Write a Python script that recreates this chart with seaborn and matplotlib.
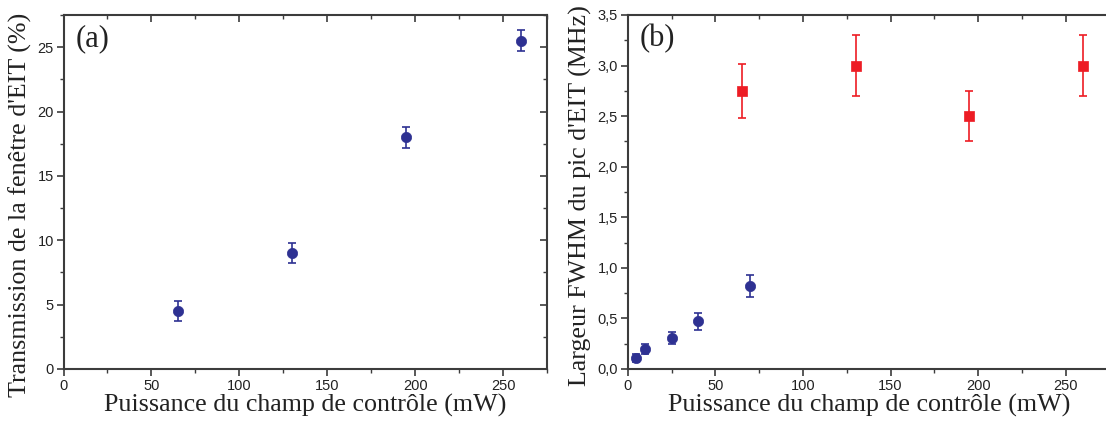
import numpy as np
import pandas as pd
import matplotlib
matplotlib.use('Agg')
import matplotlib.pyplot as plt
import seaborn as sns
from matplotlib.ticker import MultipleLocator, FuncFormatter

# (a) transmission vs control power
pow_a = [65, 130, 195, 260]
trans_a = [4.5, 9.0, 18.0, 25.5]
err_a = [0.8, 0.8, 0.8, 0.8]

# (b) EIT FWHM vs control power
pow_blue = [5, 10, 25, 40, 70]
fwhm_blue = [0.11, 0.20, 0.31, 0.47, 0.82]
err_blue = [0.04, 0.05, 0.06, 0.08, 0.11]

pow_red = [65, 130, 195, 260]
fwhm_red = [2.75, 3.0, 2.5, 3.0]
err_red = [0.27, 0.30, 0.25, 0.30]

blue = '#2e3192'
red = '#ed1c24'
spine_col = '#3c3c3c'

sns.set_style('white')
plt.rcParams['font.family'] = ['Liberation Sans', 'DejaVu Sans']

fig = plt.figure(figsize=(11.06, 4.21), dpi=100)
ax1 = fig.add_axes([63.5 / 1106, 52 / 421, 483.5 / 1106, 354 / 421])
ax2 = fig.add_axes([627.7 / 1106, 52 / 421, 482 / 1106, 354 / 421])

serif = ['Liberation Serif', 'DejaVu Serif']

df_a = pd.DataFrame({'p': pow_a, 't': trans_a})
ax1.errorbar(pow_a, trans_a, yerr=err_a, fmt='none', ecolor=blue, elinewidth=1.2,
             capsize=3, capthick=1.2, zorder=2)
sns.scatterplot(data=df_a, x='p', y='t', ax=ax1, color=blue, marker='o', s=55,
                edgecolor=blue, linewidth=0.5, zorder=3)

df_b1 = pd.DataFrame({'p': pow_blue, 'w': fwhm_blue})
df_b2 = pd.DataFrame({'p': pow_red, 'w': fwhm_red})
ax2.errorbar(pow_blue, fwhm_blue, yerr=err_blue, fmt='none', ecolor=blue, elinewidth=1.2,
             capsize=3, capthick=1.2, zorder=2)
ax2.errorbar(pow_red, fwhm_red, yerr=err_red, fmt='none', ecolor=red, elinewidth=1.2,
             capsize=3, capthick=1.2, zorder=2)
sns.scatterplot(data=df_b1, x='p', y='w', ax=ax2, color=blue, marker='o', s=55,
                edgecolor=blue, linewidth=0.5, zorder=3)
sns.scatterplot(data=df_b2, x='p', y='w', ax=ax2, color=red, marker='s', s=45,
                edgecolor=red, linewidth=0.5, zorder=3)

ax1.set_xlim(0, 275)
ax1.set_ylim(0, 27.5)
ax1.xaxis.set_major_locator(MultipleLocator(50))
ax1.xaxis.set_minor_locator(MultipleLocator(25))
ax1.yaxis.set_major_locator(MultipleLocator(5))
ax1.yaxis.set_minor_locator(MultipleLocator(2.5))

ax2.set_xlim(0, 275)
ax2.set_ylim(0, 3.5)
ax2.xaxis.set_major_locator(MultipleLocator(50))
ax2.xaxis.set_minor_locator(MultipleLocator(25))
ax2.yaxis.set_major_locator(MultipleLocator(0.5))
ax2.yaxis.set_minor_locator(MultipleLocator(0.25))
ax2.yaxis.set_major_formatter(FuncFormatter(lambda v, p: f'{v:.1f}'.replace('.', ',')))

for ax in (ax1, ax2):
    for s in ax.spines.values():
        s.set_color(spine_col)
        s.set_linewidth(1.5)
    ax.tick_params(which='major', direction='out', length=5, width=1.2, color=spine_col,
                   labelsize=10.5, labelcolor='#222222', pad=2)
    ax.tick_params(which='minor', direction='out', length=3, width=1.0, color=spine_col)
    ax.tick_params(which='both', top=True, right=True, bottom=True, left=True)
    ax.set_xlabel('Puissance du champ de contrôle (mW)', family=serif, fontsize=18.7,
                  color='#222222', labelpad=1)

# right side of panel (b) falls off the picture
ax2.tick_params(which='both', right=False)

# mirrored ticks on top/right point inward
for ax in (ax1, ax2):
    for t in ax.xaxis.get_major_ticks() + ax.xaxis.get_minor_ticks():
        t.tick2line.set_marker(3)
    for t in ax.yaxis.get_major_ticks() + ax.yaxis.get_minor_ticks():
        t.tick2line.set_marker(0)

ax1.set_ylabel("Transmission de la fenêtre d'EIT (%)", family=serif, fontsize=18.7,
               color='#222222')
ax2.set_ylabel("Largeur FWHM du pic d'EIT (MHz)", family=serif, fontsize=18.7,
               color='#222222', labelpad=4)
ax1.yaxis.set_label_coords(-0.066, 0.465)
ax2.yaxis.label.set_y(0.49)

ax1.text(0.025, 0.975, '(a)', transform=ax1.transAxes, family=serif, fontsize=22,
         va='top', ha='left', color='#222222')
ax2.text(0.025, 0.975, '(b)', transform=ax2.transAxes, family=serif, fontsize=22,
         va='top', ha='left', color='#222222')

fig.savefig('out.png', dpi=100)
